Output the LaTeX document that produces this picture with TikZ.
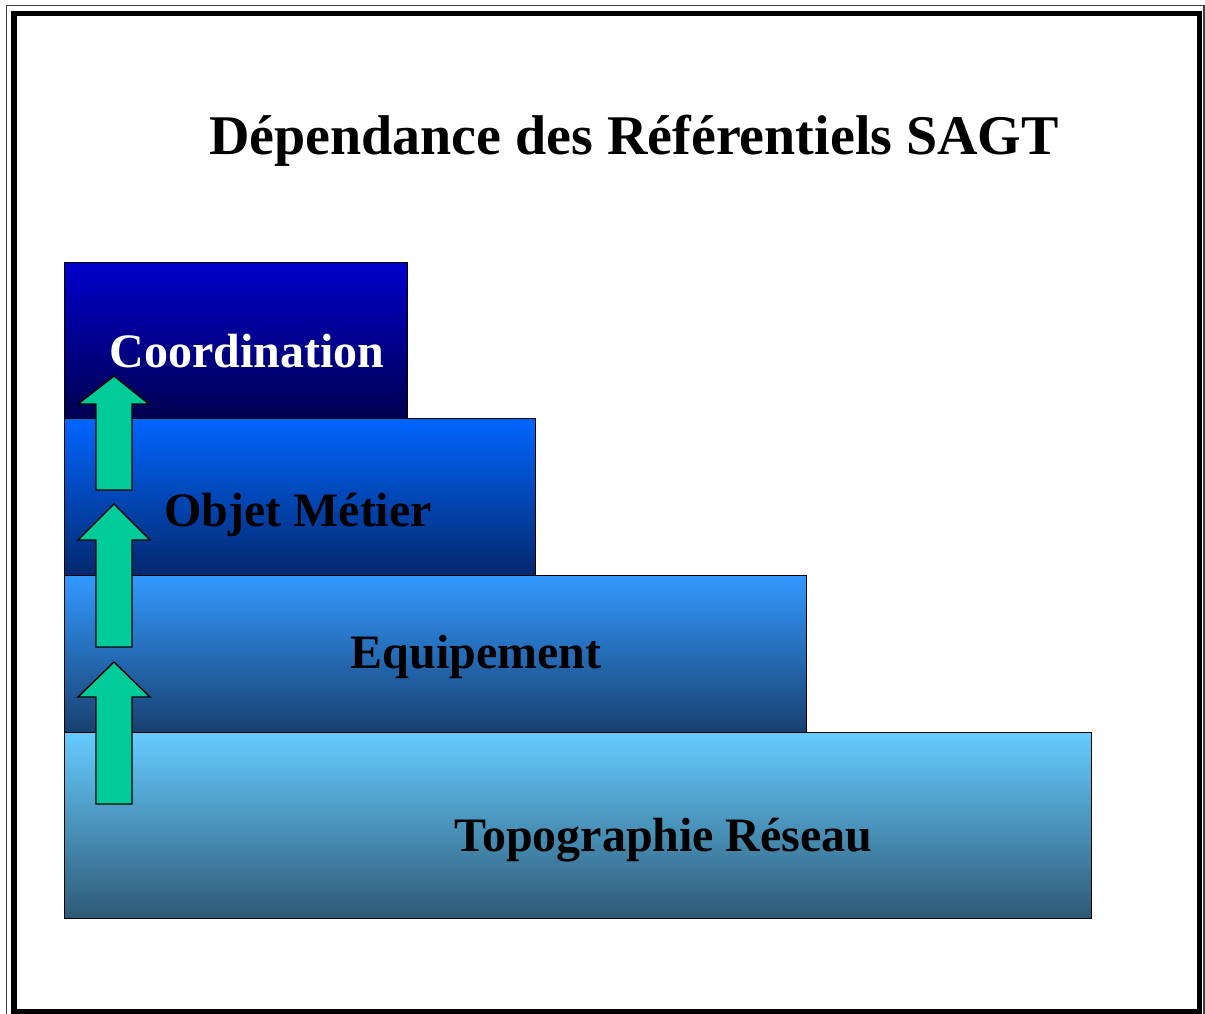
\documentclass[tikz,border=0pt]{standalone}
\usepackage{fontspec}
\setmainfont{Liberation Serif}
\usepackage{tikz}
\usetikzlibrary{positioning}
\definecolor{arrowgreen}{HTML}{00CC99}
\tikzset{
layerbox/.style={rectangle, draw=black!100, thin, inner sep=0pt},
layertext/.style={anchor=base, inner sep=0pt, font=\fontsize{48}{50}\selectfont\bfseries},
uparrowv1/.style={draw=black!100, fill=arrowgreen, line width=1.4pt, line join=miter},
}

\begin{document}
\begin{tikzpicture}[x=1pt,y=-1pt]
        \useasboundingbox (0,0) rectangle (1205,1014);
        % frame
        \draw[line width=1.3pt,black!75] (6.5,5.5) rectangle (1204,1018);
        \draw[line width=5.5pt,black] (14,13.5) rectangle (1199.5,1011.5);
        \node[anchor=base, inner sep=0pt, font=\fontsize{56}{60}\selectfont\bfseries] at (634,155) (title) {Dépendance des Référentiels SAGT};
        % layers
        \node[layerbox, minimum width=1027pt, minimum height=186pt, top color={rgb,255:red,102;green,204;blue,255}, bottom color={rgb,255:red,46;green,90;blue,118}] at (577.5,825) (topo) {};
        \node[layerbox, minimum width=742pt, minimum height=157pt, top color={rgb,255:red,51;green,153;blue,255}, bottom color={rgb,255:red,24;green,64;blue,112}] at (435,653.5) (equip) {};
        \node[layerbox, minimum width=471pt, minimum height=157pt, top color={rgb,255:red,0;green,102;blue,255}, bottom color={rgb,255:red,4;green,40;blue,110}] at (299.5,496.5) (objet) {};
        \node[layerbox, minimum width=343pt, minimum height=156pt, top color={rgb,255:red,0;green,0;blue,204}, bottom color={rgb,255:red,0;green,0;blue,80}] at (235.5,340) (coord) {};
        \node[layertext] at (663.5,851) (topolabel) {Topographie Réseau};
        \node[layertext] at (476,668) (equiplabel) {Equipement};
        \node[layertext] at (298,526) (objetlabel) {Objet Métier};
        \node[layertext, text=white] at (247,367) (coordlabel) {Coordination};
        % arrows
        \draw[uparrowv1] (96,804) -- (96,697) -- (78,697) -- (114,662) -- (150,697) -- (132,697) -- (132,804) -- cycle;
        \draw[uparrowv1] (96,647) -- (96,540) -- (78,540) -- (114,504) -- (150,540) -- (132,540) -- (132,647) -- cycle;
        \draw[uparrowv1] (96,490) -- (96,404) -- (78,404) -- (114,376) -- (149,404) -- (132,404) -- (132,490) -- cycle;
    \end{tikzpicture}
\end{document}
